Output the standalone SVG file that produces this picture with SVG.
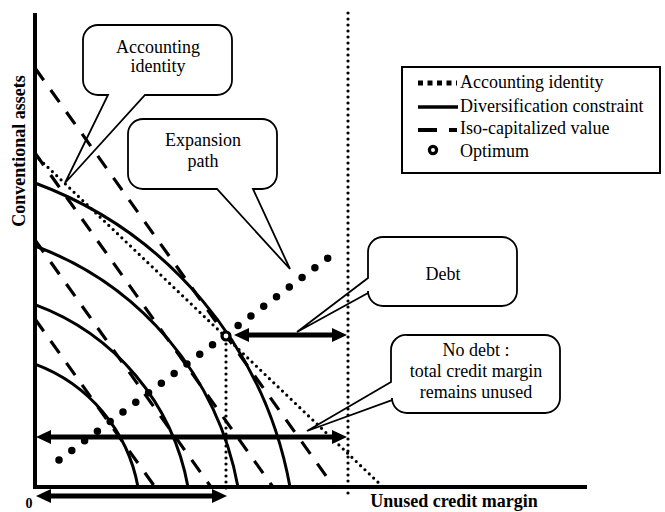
<svg xmlns="http://www.w3.org/2000/svg" width="665" height="512" viewBox="0 0 665 512">
<style>
text{font-family:"Liberation Serif","Times New Roman",serif;font-size:18px;fill:#000}
.b{font-weight:bold}
.c{text-anchor:middle}
.call{fill:#fff;stroke:#000;stroke-width:1.8;stroke-linejoin:miter}
.ax{stroke:#000;stroke-width:4;fill:none}
.arc{stroke:#000;stroke-width:3;fill:none}
.dash{stroke:#000;stroke-width:3.2;fill:none;stroke-dasharray:15 12}
.dot{stroke:#000;stroke-width:3.2;fill:none;stroke-linecap:round;stroke-dasharray:0 6}
.big{stroke:#000;stroke-width:7.5;fill:none;stroke-linecap:round;stroke-dasharray:0 16}
.arr{stroke:#000;stroke-width:5;fill:none}
</style>
<defs>
<marker id="ah" viewBox="0 0 15 14" refX="3" refY="7" markerWidth="15" markerHeight="14" markerUnits="userSpaceOnUse" orient="auto-start-reverse"><path d="M0,0 L15,7 L0,14 Z" fill="#000"/></marker>
</defs>

<g id="callout-accounting">
<path class="call" d="M98,25 H217 A15,15 0 0 1 232,40 V80 A15,15 0 0 1 217,95 H145 L65,183 L108,95 H98 A15,15 0 0 1 83,80 V40 A15,15 0 0 1 98,25 Z"/>
<text class="c" x="158" y="53">Accounting</text>
<text class="c" x="158" y="72">identity</text>
</g>
<g id="callout-expansion">
<path class="call" d="M143,119 H262 A15,15 0 0 1 277,134 V174 A15,15 0 0 1 262,189 H253 L290,269 L217,189 H143 A15,15 0 0 1 128,174 V134 A15,15 0 0 1 143,119 Z"/>
<text class="c" x="203" y="146">Expansion</text>
<text class="c" x="203" y="167">path</text>
</g>
<g id="callout-debt">
<path class="call" d="M383,237 H502 A15,15 0 0 1 517,252 V291 A15,15 0 0 1 502,306 H383 A15,15 0 0 1 368,291 V293 L297,332 L368,278 V252 A15,15 0 0 1 383,237 Z"/>
<text class="c" x="443" y="280">Debt</text>
</g>
<g id="callout-nodebt">
<path class="call" d="M407,335 H545 A15,15 0 0 1 560,350 V398 A15,15 0 0 1 545,413 H407 A15,15 0 0 1 392,398 V400 L307,431 L391,382 V350 A15,15 0 0 1 407,335 Z"/>
<text class="c" x="476" y="356">No debt :</text>
<text class="c" x="476" y="377">total credit margin</text>
<text class="c" x="476" y="398">remains unused</text>
</g>

<g id="legend">
<rect x="402" y="67" width="258" height="106" fill="#fff" stroke="#000" stroke-width="2"/>
<line x1="418" y1="83" x2="457" y2="83" stroke="#000" stroke-width="5" stroke-dasharray="5 4.5"/>
<line x1="418" y1="107" x2="458" y2="107" stroke="#000" stroke-width="3.5"/>
<line x1="418" y1="130" x2="437" y2="130" stroke="#000" stroke-width="4"/>
<line x1="449" y1="130" x2="457" y2="130" stroke="#000" stroke-width="4"/>
<circle cx="433" cy="150" r="3.6" fill="#fff" stroke="#000" stroke-width="3.2"/>
<text x="460" y="88">Accounting identity</text>
<text x="460" y="112">Diversification constraint</text>
<text x="460" y="134">Iso-capitalized value</text>
<text x="460" y="157">Optimum</text>
</g>

<g id="connectors">
<path class="arc" d="M35,364.2 A161.6,161.6 0 0 1 138,487"/>
<path class="arc" d="M35,304.6 A240,240 0 0 1 188,487"/>
<path class="arc" d="M35,246 A318.4,318.4 0 0 1 238,487"/>
<path class="arc" d="M35,183 A400,400 0 0 1 290,487"/>
<line class="dash" x1="35" y1="68" x2="334" y2="487"/>
<line class="dash" x1="35" y1="153" x2="273" y2="487"/>
<line class="dash" x1="35" y1="240" x2="211" y2="487"/>
<line class="dash" x1="35" y1="319" x2="155" y2="487"/>
<line class="dot" x1="35" y1="155" x2="383" y2="487"/>
<line class="dot" x1="348" y1="13" x2="348" y2="494"/>
<line class="dot" x1="226" y1="344" x2="226" y2="494"/>
<line class="big" x1="59" y1="460" x2="340" y2="249"/>
<line class="arr" x1="246" y1="335" x2="335" y2="335" marker-start="url(#ah)" marker-end="url(#ah)"/>
<line class="arr" x1="48" y1="437" x2="335" y2="437" marker-start="url(#ah)" marker-end="url(#ah)"/>
<line class="arr" x1="48" y1="496" x2="215" y2="496" marker-start="url(#ah)" marker-end="url(#ah)"/>
<line class="ax" x1="35" y1="13" x2="35" y2="489"/>
<line class="ax" x1="33" y1="487" x2="587" y2="487"/>
<circle id="optimum" cx="226" cy="336" r="4" fill="#fff" stroke="#000" stroke-width="3.2"/>
</g>

<text class="b c" x="454" y="507">Unused credit margin</text>
<text class="b c" x="29" y="508" style="font-size:14px">0</text>
<text class="b c" x="25" y="151" transform="rotate(-90 25 151)">Conventional assets</text>
</svg>
